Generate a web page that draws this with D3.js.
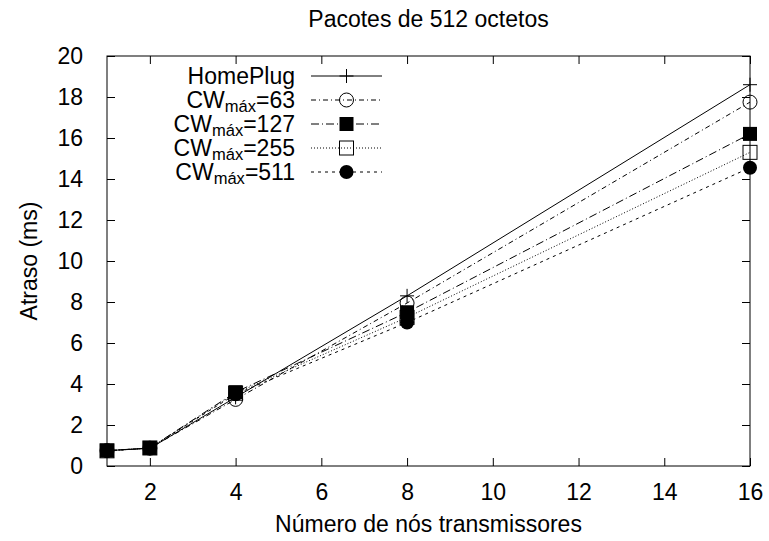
<!DOCTYPE html>
<html>
<head>
<meta charset="utf-8">
<script src="https://cdn.jsdelivr.net/npm/d3@7/dist/d3.min.js"></script>
<style>
  html, body { margin: 0; padding: 0; background: #fff; }
  svg { display: block; font-family: "Liberation Sans", Arial, Helvetica, sans-serif; }
</style>
</head>
<body>
<svg id="chart" width="769" height="541"></svg>
<script>
// Number of transmitting nodes
const nodes = [1, 2, 4, 8, 16];

// Mean delay (ms) per configuration
const homePlug = [0.75, 0.86, 3.35, 8.3, 18.6];
const cw63     = [0.75, 0.87, 3.25, 7.95, 17.75];
const cw127    = [0.75, 0.88, 3.6, 7.5, 16.2];
const cw255    = [0.74, 0.88, 3.55, 7.25, 15.3];
const cw511    = [0.74, 0.88, 3.5, 7.0, 14.55];

const xTicks = [2, 4, 6, 8, 10, 12, 14, 16];
const yTicks = [0, 2, 4, 6, 8, 10, 12, 14, 16, 18, 20];

const titleText = "Pacotes de 512 octetos";
const xLabel = "Número de nós transmissores";
const yLabel = "Atraso (ms)";

const series = [
  { name: "HomePlug", cw: null,  values: homePlug, dash: null,      marker: "plus" },
  { name: "CW",       cw: "63",  values: cw63,     dash: "5,3,1,3", marker: "circleOpen" },
  { name: "CW",       cw: "127", values: cw127,    dash: "8,3,1,3", marker: "squareFilled" },
  { name: "CW",       cw: "255", values: cw255,    dash: "1,2",     marker: "squareOpen" },
  { name: "CW",       cw: "511", values: cw511,    dash: "3,4",     marker: "circleFilled" }
];

const svg = d3.select("#chart");
const W = 769, H = 541;
const plot = { left: 107, right: 750, top: 56, bottom: 466 };
const fontSize = 23;
const tickLen = 8;

svg.append("rect").attr("width", W).attr("height", H).attr("fill", "#fff");

const x = d3.scaleLinear().domain([1, 16]).range([plot.left, plot.right]);
const y = d3.scaleLinear().domain([0, 20]).range([plot.bottom, plot.top]);

// Axes with inward ticks, mirrored on top and right
const axisBottom = d3.axisBottom(x).tickValues(xTicks).tickSizeInner(-tickLen).tickSizeOuter(0).tickPadding(18);
const axisTop = d3.axisTop(x).tickValues(xTicks).tickSizeInner(-tickLen).tickSizeOuter(0).tickFormat("");
const axisLeft = d3.axisLeft(y).tickValues(yTicks).tickSizeInner(-tickLen).tickSizeOuter(0).tickPadding(24);
const axisRight = d3.axisRight(y).tickValues(yTicks).tickSizeInner(-tickLen).tickSizeOuter(0).tickFormat("");

function styleAxis(g) {
  g.select(".domain").remove();
  g.selectAll(".tick line").attr("stroke", "#000").attr("stroke-width", 1);
  g.selectAll(".tick text").attr("fill", "#000").attr("font-size", fontSize)
    .attr("font-family", "Liberation Sans, Arial, sans-serif");
}

svg.append("g").attr("transform", `translate(0,${plot.bottom})`).call(axisBottom).call(styleAxis);
svg.append("g").attr("transform", `translate(0,${plot.top})`).call(axisTop).call(styleAxis);
svg.append("g").attr("transform", `translate(${plot.left},0)`).call(axisLeft).call(styleAxis);
svg.append("g").attr("transform", `translate(${plot.right},0)`).call(axisRight).call(styleAxis);

// Plot frame
svg.append("rect")
  .attr("x", plot.left).attr("y", plot.top)
  .attr("width", plot.right - plot.left).attr("height", plot.bottom - plot.top)
  .attr("fill", "none").attr("stroke", "#000").attr("stroke-width", 1);

// Titles
svg.append("text").attr("x", (plot.left + plot.right) / 2).attr("y", 27)
  .attr("text-anchor", "middle").attr("font-size", fontSize).text(titleText);
svg.append("text").attr("x", (plot.left + plot.right) / 2).attr("y", 532)
  .attr("text-anchor", "middle").attr("font-size", fontSize).text(xLabel);
svg.append("text")
  .attr("transform", `translate(37,${(plot.top + plot.bottom) / 2}) rotate(-90)`)
  .attr("text-anchor", "middle").attr("font-size", fontSize).text(yLabel);

// Point markers (open shapes are outlines only)
function drawMarker(g, type, cx, cy) {
  const s = 7;
  if (type === "plus") {
    g.append("path").attr("d", `M${cx - s},${cy}H${cx + s}M${cx},${cy - s}V${cy + s}`)
      .attr("stroke", "#000").attr("stroke-width", 1).attr("fill", "none");
  } else if (type === "circleOpen") {
    g.append("circle").attr("cx", cx).attr("cy", cy).attr("r", s)
      .attr("fill", "none").attr("stroke", "#000").attr("stroke-width", 1);
  } else if (type === "circleFilled") {
    g.append("circle").attr("cx", cx).attr("cy", cy).attr("r", s).attr("fill", "#000");
  } else if (type === "squareOpen") {
    g.append("rect").attr("x", cx - s).attr("y", cy - s).attr("width", 2 * s).attr("height", 2 * s)
      .attr("fill", "none").attr("stroke", "#000").attr("stroke-width", 1);
  } else if (type === "squareFilled") {
    g.append("rect").attr("x", cx - s).attr("y", cy - s).attr("width", 2 * s).attr("height", 2 * s)
      .attr("fill", "#000");
  }
}

const line = d3.line().x((d, i) => x(nodes[i])).y(d => y(d));

series.forEach(s => {
  const g = svg.append("g");
  g.append("path").datum(s.values).attr("d", line)
    .attr("fill", "none").attr("stroke", "#000").attr("stroke-width", 1)
    .attr("stroke-dasharray", s.dash);
  s.values.forEach((v, i) => drawMarker(g, s.marker, x(nodes[i]), y(v)));
});

// Legend
const legend = { textRight: 295, lineStart: 311, lineEnd: 382, top: 76, step: 24 };
series.forEach((s, i) => {
  const ly = legend.top + i * legend.step;
  const g = svg.append("g");
  const t = g.append("text").attr("x", legend.textRight).attr("y", ly + 8)
    .attr("text-anchor", "end").attr("font-size", fontSize);
  if (s.cw === null) {
    t.text(s.name);
  } else {
    t.append("tspan").text("CW");
    t.append("tspan").attr("font-size", fontSize * 0.72).attr("dy", 4).text("máx");
    t.append("tspan").attr("dy", -4).text("=" + s.cw);
  }
  g.append("line").attr("x1", legend.lineStart).attr("x2", legend.lineEnd)
    .attr("y1", ly).attr("y2", ly)
    .attr("stroke", "#000").attr("stroke-width", 1).attr("stroke-dasharray", s.dash);
  drawMarker(g, s.marker, (legend.lineStart + legend.lineEnd) / 2, ly);
});
</script>
</body>
</html>
